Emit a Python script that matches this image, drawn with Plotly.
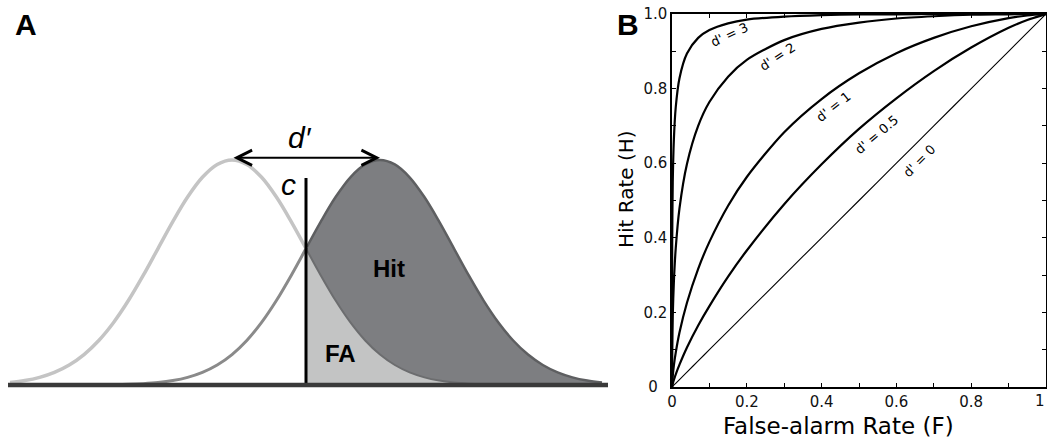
import plotly.graph_objects as go

# ---------------- Panel A data (equal-variance Gaussian model) ----------------
x_grid = [-3.0, -2.8, -2.6, -2.4, -2.2, -2.0, -1.8, -1.6, -1.4, -1.2, -1.0,
          -0.8, -0.6, -0.4, -0.2, 0.0, 0.2, 0.4, 0.6, 0.8, 1.0,
          1.2, 1.4, 1.6, 1.8, 2.0, 2.2, 2.4, 2.6, 2.8, 3.0,
          3.2, 3.4, 3.6, 3.8, 4.0, 4.2, 4.4, 4.6, 4.8, 5.0]
noise_density = [0.0111, 0.0198, 0.0340, 0.0561, 0.0889, 0.1353, 0.1979, 0.2780, 0.3753, 0.4868, 0.6065,
                 0.7261, 0.8353, 0.9231, 0.9802, 1.0, 0.9802, 0.9231, 0.8353, 0.7261, 0.6065,
                 0.4868, 0.3753, 0.2780, 0.1979, 0.1353, 0.0889, 0.0561, 0.0340, 0.0198, 0.0111,
                 0.0060, 0.0031, 0.0015, 0.0007, 0.0003, 0.0001, 0.0001, 0.0, 0.0, 0.0]
signal_density = [0.0, 0.0, 0.0, 0.0001, 0.0001, 0.0003, 0.0007, 0.0015, 0.0031, 0.0060, 0.0111,
                  0.0198, 0.0340, 0.0561, 0.0889, 0.1353, 0.1979, 0.2780, 0.3753, 0.4868, 0.6065,
                  0.7261, 0.8353, 0.9231, 0.9802, 1.0, 0.9802, 0.9231, 0.8353, 0.7261, 0.6065,
                  0.4868, 0.3753, 0.2780, 0.1979, 0.1353, 0.0889, 0.0561, 0.0340, 0.0198, 0.0111]
noise_mean = 0.0
signal_mean = 2.0
criterion = 1.0
criterion_top = 0.92
c_index = x_grid.index(criterion)

# ---------------- Panel B data (ROC curves) ----------------
fa_rate = [0.0, 0.0001, 0.0005, 0.002, 0.005, 0.01, 0.02, 0.04, 0.07, 0.1, 0.15,
           0.2, 0.3, 0.4, 0.5, 0.6, 0.7, 0.8, 0.9, 0.95, 1.0]
hit_d3 = [0.0, 0.236, 0.386, 0.549, 0.664, 0.750, 0.828, 0.894, 0.936, 0.957, 0.975,
          0.985, 0.993, 0.997, 0.999, 0.999, 1.0, 1.0, 1.0, 1.0, 1.0]
hit_d2 = [0.0, 0.043, 0.098, 0.190, 0.282, 0.372, 0.479, 0.598, 0.700, 0.764, 0.832,
          0.877, 0.930, 0.960, 0.977, 0.988, 0.994, 0.998, 0.999, 1.0, 1.0]
hit_d1 = [0.0, 0.003, 0.011, 0.030, 0.058, 0.092, 0.146, 0.226, 0.317, 0.389, 0.486,
          0.563, 0.683, 0.772, 0.841, 0.895, 0.936, 0.967, 0.989, 0.996, 1.0]
hit_d05 = [0.0, 0.001, 0.003, 0.009, 0.019, 0.034, 0.060, 0.106, 0.165, 0.217, 0.296,
           0.366, 0.490, 0.597, 0.692, 0.774, 0.847, 0.910, 0.963, 0.984, 1.0]
hit_d0 = fa_rate
roc_curves = [hit_d3, hit_d2, hit_d1, hit_d05, hit_d0]
roc_labels = ["d' = 3", "d' = 2", "d' = 1", "d' = 0.5", "d' = 0"]
label_x = [0.155, 0.283, 0.433, 0.548, 0.663]
label_y = [0.944, 0.885, 0.751, 0.676, 0.606]
label_angle = [-25, -33, -38, -40, -45]
tick_vals = [0.0, 0.1, 0.2, 0.3, 0.4, 0.5, 0.6, 0.7, 0.8, 0.9, 1.0]
x_tick_text = ["0", "", "0.2", "", "0.4", "", "0.6", "", "0.8", "", ""]
x_last_tick = "1"
y_tick_text = ["0\u2007", "", "0.2", "", "0.4", "", "0.6", "", "0.8", "", "1.0"]

W, H = 1047, 444
fig = go.Figure()

# --- Panel A fills ---
fig.add_trace(go.Scatter(x=x_grid[c_index:], y=signal_density[c_index:], mode="lines",
                         line=dict(color="#5e5f61", width=2.5, shape="spline"),
                         fill="tozeroy", fillcolor="#7d7e81", xaxis="x", yaxis="y",
                         hoverinfo="skip", showlegend=False))
fig.add_trace(go.Scatter(x=x_grid[c_index:], y=noise_density[c_index:], mode="lines",
                         line=dict(color="#6c6d6f", width=2, shape="spline"),
                         fill="tozeroy", fillcolor="#c3c4c4", xaxis="x", yaxis="y",
                         hoverinfo="skip", showlegend=False))
# --- Panel A left parts of curves ---
fig.add_trace(go.Scatter(x=x_grid[:c_index + 1], y=signal_density[:c_index + 1], mode="lines",
                         line=dict(color="#8a8a8a", width=3, shape="spline"),
                         xaxis="x", yaxis="y", hoverinfo="skip", showlegend=False))
fig.add_trace(go.Scatter(x=x_grid[:c_index + 1], y=noise_density[:c_index + 1], mode="lines",
                         line=dict(color="#c4c4c4", width=3.5, shape="spline"),
                         xaxis="x", yaxis="y", hoverinfo="skip", showlegend=False))
# criterion
fig.add_trace(go.Scatter(x=[criterion, criterion], y=[0, criterion_top], mode="lines",
                         line=dict(color="#000000", width=3), xaxis="x", yaxis="y",
                         hoverinfo="skip", showlegend=False))

# --- Panel B ROC curves ---
for i, hit in enumerate(roc_curves):
    fig.add_trace(go.Scatter(x=fa_rate, y=hit, mode="lines",
                             line=dict(color="#000000", width=1.1 if i == 4 else 2.2,
                                       shape="spline", smoothing=0.8),
                             xaxis="x2", yaxis="y2", hoverinfo="skip", showlegend=False))

C = dict(xanchor="center", yanchor="middle", showarrow=False)
ann = []
ann.append(dict(text="<b>A</b>", x=26 / W, y=1 - 25 / H, xref="paper", yref="paper",
                font=dict(family="Liberation Sans", size=30, color="#000"), **C))
ann.append(dict(text="<b>B</b>", x=628 / W, y=1 - 24 / H, xref="paper", yref="paper",
                font=dict(family="Liberation Sans", size=30, color="#000"), **C))
# d' arrow
ann.append(dict(x=signal_mean, y=1.01, ax=noise_mean, ay=1.01, xref="x", yref="y",
                axref="x", ayref="y", text="", showarrow=True, arrowside="end+start",
                arrowhead=5, startarrowhead=5, arrowsize=1.5, startarrowsize=1.5,
                arrowwidth=2, arrowcolor="#000"))
ann.append(dict(text="<i>d′</i>", x=0.92, y=1.098, xref="x", yref="y",
                font=dict(family="Liberation Sans", size=30, color="#000"), **C))
ann.append(dict(text="<i>c</i>", x=0.77, y=0.889, xref="x", yref="y",
                font=dict(family="Liberation Sans", size=30, color="#000"), **C))
ann.append(dict(text="<b>Hit</b>", x=2.12, y=0.52, xref="x", yref="y",
                font=dict(family="Liberation Sans", size=24, color="#000"), **C))
ann.append(dict(text="<b>FA</b>", x=1.47, y=0.138, xref="x", yref="y",
                font=dict(family="Liberation Sans", size=24, color="#000"), **C))
# ROC labels
for lab, lx, ly, la in zip(roc_labels, label_x, label_y, label_angle):
    ann.append(dict(text=lab, x=lx, y=ly, xref="x2", yref="y2",
                    textangle=la, font=dict(family="DejaVu Sans", size=13, color="#000"), **C))
# last x tick label kept inside the page
ann.append(dict(text=x_last_tick, x=tick_vals[-1], y=1 - 401 / H, xref="x2", yref="paper",
                xanchor="right", yanchor="middle", showarrow=False, xshift=1,
                font=dict(family="DejaVu Sans", size=15, color="#111")))
# axis titles
ann.append(dict(text="False-alarm Rate (F)", x=838 / W, y=1 - 426 / H, xref="paper", yref="paper",
                font=dict(family="DejaVu Sans", size=23, color="#000"), **C))
ann.append(dict(text="Hit Rate (H)", x=626 / W, y=1 - 189 / H, xref="paper", yref="paper",
                textangle=-90, font=dict(family="DejaVu Sans", size=20, color="#000"), **C))

axis_common = dict(range=[0, 1], showline=True, linecolor="#000", linewidth=1.5, mirror="ticks",
                   ticks="inside", ticklen=4, tickwidth=1, tickcolor="#000",
                   tickvals=tick_vals, showgrid=False, zeroline=False, automargin=False,
                   ticklabeloverflow="allow",
                   tickfont=dict(family="DejaVu Sans", size=15, color="#111"))

fig.update_layout(
    width=W, height=H, margin=dict(l=0, r=0, t=0, b=0, pad=0, autoexpand=False),
    paper_bgcolor="#ffffff", plot_bgcolor="#ffffff",
    xaxis=dict(domain=[8 / W, 608 / W], range=[-3.027, 5.081], visible=False, fixedrange=True),
    yaxis=dict(domain=[0, 1], range=[-0.2622, 1.7111], visible=False, fixedrange=True),
    xaxis2=dict(domain=[672 / W, 1046 / W], anchor="y2", ticktext=x_tick_text, **axis_common),
    yaxis2=dict(domain=[1 - 387 / H, 1 - 14 / H], anchor="x2", ticktext=y_tick_text, **axis_common),
    annotations=ann,
    shapes=[dict(type="line", xref="x domain", yref="y", x0=0, x1=1, y0=0, y1=0,
                 line=dict(color="#3a3a3a", width=4.5), layer="above")],
)

fig.write_html("out.html")
